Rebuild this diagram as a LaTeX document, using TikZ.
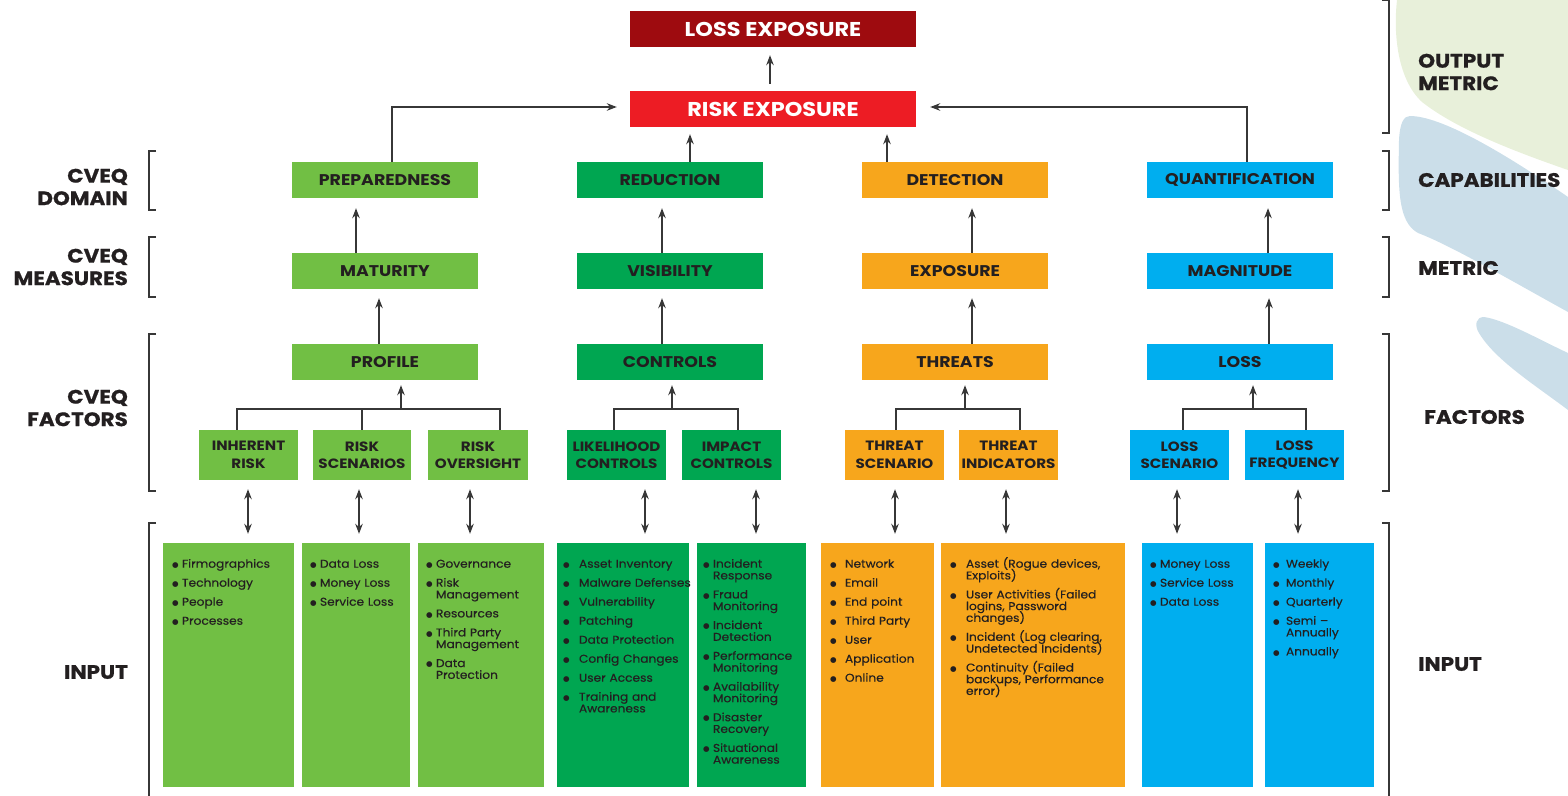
\documentclass[tikz,border=0pt]{standalone}
\usepackage{fontspec}
\setmainfont{Poppins}
\newfontfamily\widef{Poppins}[FakeStretch=1.12]
\newfontfamily\heavyf{Poppins}[FakeStretch=1.1, BoldFeatures={FakeBold=0.8}]
\newfontfamily\itemf{Poppins}[FakeStretch=1.08, FakeBold=0.35]
\newfontfamily\dotf{DejaVu Sans}
\usetikzlibrary{arrows.meta}
\definecolor{lgreen}{RGB}{113,191,68}
\definecolor{dgreen}{RGB}{0,166,81}
\definecolor{orng}{RGB}{247,166,28}
\definecolor{cblue}{RGB}{0,174,239}
\definecolor{dred}{RGB}{158,11,15}
\definecolor{cred}{RGB}{237,28,36}
\definecolor{txt}{RGB}{35,31,32}
\definecolor{lnc}{RGB}{55,55,55}
\definecolor{paleg}{RGB}{232,240,218}
\definecolor{paleb}{RGB}{203,222,233}
\newcommand\bdot{{\dotf\fontsize{7.5}{7.5}\selectfont ●}}
\newcommand\bi[2][10pt]{\par\lineskiplimit=-20pt\relax\hangindent=#1\relax\hangafter=1\relax\noindent\makebox[#1][l]{\raisebox{0.3pt}{\bdot}}#2\par\vspace{7.3pt}}
\tikzset{
  box/.style={rectangle, inner sep=0pt, text=txt, font=\widef\fontsize{15.5}{17}\selectfont\bfseries, align=center, minimum width=186pt, minimum height=36pt},
  sbox/.style={rectangle, inner sep=0pt, text=txt, font=\widef\fontsize{13.5}{17.5}\selectfont\bfseries, align=center, minimum height=50pt},
  big/.style={rectangle, inner sep=0pt, text=white, font=\widef\fontsize{20}{22}\selectfont\bfseries, minimum width=286pt, minimum height=36pt},
  ibox/.style={rectangle, inner sep=0pt, minimum height=244pt},
  itxt/.style={anchor=north west, inner sep=0pt, text width=200pt, align=left, text=txt, font=\itemf\fontsize{11.3}{11.7}\selectfont},
  lab/.style={inner sep=0pt, text=txt, font=\heavyf\fontsize{19.5}{22.5}\selectfont\bfseries},
  conn/.style={draw=lnc, line width=1.3pt},
  arr/.style={conn, -{Stealth[length=10pt,width=7.5pt]}},
  dbl/.style={conn, {Stealth[length=10pt,width=7.5pt]}-{Stealth[length=10pt,width=7.5pt]}},
  brk/.style={draw=lnc, line width=1.3pt}
}
\begin{document}
\begin{tikzpicture}[x=1pt,y=-1pt]
\useasboundingbox (0,0) rectangle (1568,795);
% background blobs
\fill[paleg] (1397,0) .. controls (1393,35) and (1398,80) .. (1422,102) .. controls (1455,128) and (1510,150) .. (1568,170) -- (1568,0) -- cycle;
\fill[paleb] (1410,116) .. controls (1440,116) and (1500,150) .. (1568,197) -- (1568,312) .. controls (1510,280) and (1450,245) .. (1418,233) .. controls (1398,222) and (1398,190) .. (1399,140) .. controls (1400,122) and (1404,116) .. (1410,116) -- cycle;
\fill[paleb] (1484,317) .. controls (1505,320) and (1540,340) .. (1568,353) -- (1568,410) .. controls (1535,385) and (1495,360) .. (1479,333) .. controls (1474,325) and (1476,317) .. (1484,317) -- cycle;

% top boxes
\node[big, fill=dred] (loss) at (773,29) {LOSS EXPOSURE};
\node[big, fill=cred] (risk) at (773,109) {RISK EXPOSURE};

% domain row
\node[box, fill=lgreen] (prep) at (385,180) {PREPAREDNESS};
\node[box, fill=dgreen] (redu) at (670,180) {REDUCTION};
\node[box, fill=orng] (dete) at (955,180) {DETECTION};
\node[box, fill=cblue] (quan) at (1240,180) {QUANTIFICATION};
% measures row
\node[box, fill=lgreen] (matu) at (385,271) {MATURITY};
\node[box, fill=dgreen] (visi) at (670,271) {VISIBILITY};
\node[box, fill=orng] (expo) at (955,271) {EXPOSURE};
\node[box, fill=cblue] (magn) at (1240,271) {MAGNITUDE};
% factors row
\node[box, fill=lgreen] (prof) at (385,362) {PROFILE};
\node[box, fill=dgreen] (cont) at (670,362) {CONTROLS};
\node[box, fill=orng] (thre) at (955,362) {THREATS};
\node[box, fill=cblue] (lossf) at (1240,362) {LOSS};
% sub factors
\node[sbox, fill=lgreen, minimum width=99pt] (inh) at (248.5,455) {INHERENT\\RISK};
\node[sbox, fill=lgreen, minimum width=98pt] (rsc) at (362,455) {RISK\\SCENARIOS};
\node[sbox, fill=lgreen, minimum width=100pt] (ros) at (478,455) {RISK\\OVERSIGHT};
\node[sbox, fill=dgreen, minimum width=99pt] (lik) at (616.5,455) {LIKELIHOOD\\CONTROLS};
\node[sbox, fill=dgreen, minimum width=99pt] (imp) at (731.5,455) {IMPACT\\CONTROLS};
\node[sbox, fill=orng, minimum width=99pt] (tsc) at (894.5,455) {THREAT\\SCENARIO};
\node[sbox, fill=orng, minimum width=99pt] (tin) at (1008.5,455) {THREAT\\INDICATORS};
\node[sbox, fill=cblue, minimum width=99pt] (lsc) at (1179.5,455) {LOSS\\SCENARIO};
\node[sbox, fill=cblue, minimum width=99pt] (lfr) at (1294.5,455) {LOSS\\FREQUENCY};

% input boxes
\node[ibox, fill=lgreen, minimum width=131pt] (in1) at (228.5,665) {};
\node[ibox, fill=lgreen, minimum width=108pt] (in2) at (356,665) {};
\node[ibox, fill=lgreen, minimum width=126pt] (in3) at (481,665) {};
\node[ibox, fill=dgreen, minimum width=132pt] (in4) at (623,665) {};
\node[ibox, fill=dgreen, minimum width=109pt] (in5) at (751.5,665) {};
\node[ibox, fill=orng, minimum width=113pt] (in6) at (877.5,665) {};
\node[ibox, fill=orng, minimum width=184pt] (in7) at (1033,665) {};
\node[ibox, fill=cblue, minimum width=111pt] (in8) at (1197.5,665) {};
\node[ibox, fill=cblue, minimum width=109pt] (in9) at (1319.5,665) {};

\node[itxt] (t1) at ([xshift=9pt,yshift=-13pt]in1.north west) {\bi{Firmographics}\bi{Technology}\bi{People}\bi{Processes}};
\node[itxt] (t2) at ([xshift=8pt,yshift=-13pt]in2.north west) {\bi{Data Loss}\bi{Money Loss}\bi{Service Loss}};
\node[itxt] (t3) at ([xshift=8pt,yshift=-13pt]in3.north west) {\bi{Governance}\bi{Risk\newline Management}\bi{Resources}\bi{Third Party\newline Management}\bi{Data\newline Protection}};
\node[itxt] (t4) at ([xshift=6pt,yshift=-13pt]in4.north west) {\bi[16pt]{Asset Inventory}\bi[16pt]{Malware Defenses}\bi[16pt]{Vulnerability}\bi[16pt]{Patching}\bi[16pt]{Data Protection}\bi[16pt]{Config Changes}\bi[16pt]{User Access}\bi[16pt]{Training and\newline Awareness}};
\node[itxt] (t5) at ([xshift=6pt,yshift=-13pt]in5.north west) {\bi{Incident\newline Response}\bi{Fraud\newline Monitoring}\bi{Incident\newline Detection}\bi{Performance\newline Monitoring}\bi{Availability\newline Monitoring}\bi{Disaster\newline Recovery}\bi{Situational\newline Awareness}};
\node[itxt] (t6) at ([xshift=9pt,yshift=-13pt]in6.north west) {\bi[15pt]{Network}\bi[15pt]{Email}\bi[15pt]{End point}\bi[15pt]{Third Party}\bi[15pt]{User}\bi[15pt]{Application}\bi[15pt]{Online}};
\node[itxt] (t7) at ([xshift=9pt,yshift=-13pt]in7.north west) {\bi[16pt]{Asset (Rogue devices,\newline Exploits)}\bi[16pt]{User Activities (Failed\newline logins, Password\newline changes)}\bi[16pt]{Incident (Log clearing,\newline Undetected Incidents)}\bi[16pt]{Continuity (Failed\newline backups, Performance\newline error)}};
\node[itxt] (t8) at ([xshift=8pt,yshift=-13pt]in8.north west) {\bi{Money Loss}\bi{Service Loss}\bi{Data Loss}};
\node[itxt] (t9) at ([xshift=8pt,yshift=-13pt]in9.north west) {\bi[13pt]{Weekly}\bi[13pt]{Monthly}\bi[13pt]{Quarterly}\bi[13pt]{Semi –\newline Annually}\bi[13pt]{Annually}};

% arrows top
\draw[arr, shorten <=7pt, shorten >=8pt] (risk.north -| 770,0) -- (loss.south -| 770,0);
\coordinate (pj) at (392,107);
\coordinate (qj) at (1247,107);
\draw[arr, shorten >=13pt] (prep.north -| pj) -- (pj) -- (risk.west |- pj);
\draw[arr, shorten >=14pt] (quan.north -| qj) -- (qj) -- (risk.east |- qj);
\draw[arr, shorten >=7pt] (redu.north -| 690,0) -- (risk.south -| 690,0);
\draw[arr, shorten >=7pt] (dete.north -| 887,0) -- (risk.south -| 887,0);
% measures -> domain
\draw[arr, shorten >=10pt] (matu.north -| 356,0) -- (prep.south -| 356,0);
\draw[arr, shorten >=10pt] (visi.north -| 662,0) -- (redu.south -| 662,0);
\draw[arr, shorten >=10pt] (expo.north -| 972,0) -- (dete.south -| 972,0);
\draw[arr, shorten >=10pt] (magn.north -| 1268,0) -- (quan.south -| 1268,0);
% factors -> measures
\draw[arr, shorten >=9pt] (prof.north -| 379,0) -- (matu.south -| 379,0);
\draw[arr, shorten >=9pt] (cont.north -| 662,0) -- (visi.south -| 662,0);
\draw[arr, shorten >=9pt] (thre.north -| 972,0) -- (expo.south -| 972,0);
\draw[arr, shorten >=9pt] (lossf.north -| 1269,0) -- (magn.south -| 1269,0);
% trees
\draw[conn] (inh.north -| 237,0) |- (500,409) -- (ros.north -| 500,0);
\draw[conn] (rsc.north) -- (rsc.north |- 0,409);
\draw[arr, shorten >=5pt] (401,409) -- (prof.south -| 401,0);
\draw[conn] (lik.north -| 614,0) |- (738,409) -- (imp.north -| 738,0);
\draw[arr, shorten >=5pt] (672,409) -- (cont.south -| 672,0);
\draw[conn] (tsc.north -| 896,0) |- (1020,409) -- (tin.north -| 1020,0);
\draw[arr, shorten >=5pt] (965,409) -- (thre.south -| 965,0);
\draw[conn] (lsc.north -| 1183,0) |- (1306,409) -- (lfr.north -| 1306,0);
\draw[arr, shorten >=5pt] (1253,409) -- (lossf.south -| 1253,0);
% double arrows
\draw[dbl, shorten <=9pt, shorten >=9pt] (inh.south -| 248,0) -- (in1.north -| 248,0);
\draw[dbl, shorten <=9pt, shorten >=9pt] (rsc.south -| 359,0) -- (in2.north -| 359,0);
\draw[dbl, shorten <=9pt, shorten >=9pt] (ros.south -| 470,0) -- (in3.north -| 470,0);
\draw[dbl, shorten <=9pt, shorten >=9pt] (lik.south -| 645,0) -- (in4.north -| 645,0);
\draw[dbl, shorten <=9pt, shorten >=9pt] (imp.south -| 756,0) -- (in5.north -| 756,0);
\draw[dbl, shorten <=9pt, shorten >=9pt] (tsc.south -| 895,0) -- (in6.north -| 895,0);
\draw[dbl, shorten <=9pt, shorten >=9pt] (tin.south -| 1006,0) -- (in7.north -| 1006,0);
\draw[dbl, shorten <=9pt, shorten >=9pt] (lsc.south -| 1177,0) -- (in8.north -| 1177,0);
\draw[dbl, shorten <=9pt, shorten >=9pt] (lfr.south -| 1298,0) -- (in9.north -| 1298,0);

% brackets left
\draw[brk] (156,151) -- (149,151) -- (149,210) -- (156,210);
\draw[brk] (156,237) -- (149,237) -- (149,297) -- (156,297);
\draw[brk] (156,334) -- (149,334) -- (149,491) -- (156,491);
\draw[brk] (156,523) -- (149,523) -- (149,800);
% brackets right
\draw[brk] (1382,0.5) -- (1389,0.5) -- (1389,133) -- (1382,133);
\draw[brk] (1382,151) -- (1389,151) -- (1389,210) -- (1382,210);
\draw[brk] (1382,237) -- (1389,237) -- (1389,297) -- (1382,297);
\draw[brk] (1382,334) -- (1389,334) -- (1389,491) -- (1382,491);
\draw[brk] (1382,523) -- (1389,523) -- (1389,800);

% labels left
\node[lab, align=right, anchor=east] (ld) at (128,187) {CVEQ\\DOMAIN};
\node[lab, align=right, anchor=east] (lm) at (128,267) {CVEQ\\MEASURES};
\node[lab, align=right, anchor=east] (lf) at (128,408) {CVEQ\\FACTORS};
\node[lab, align=right, anchor=east] (li) at (128,672) {INPUT};
% labels right
\node[lab, align=left, anchor=west] (ro) at (1418,72) {OUTPUT\\METRIC};
\node[lab, align=left, anchor=west] (rc) at (1418,180) {CAPABILITIES};
\node[lab, align=left, anchor=west] (rm) at (1418,268) {METRIC};
\node[lab, align=left, anchor=west] (rf) at (1424,417) {FACTORS};
\node[lab, align=left, anchor=west] (ri) at (1418,664) {INPUT};
\end{tikzpicture}
\end{document}
